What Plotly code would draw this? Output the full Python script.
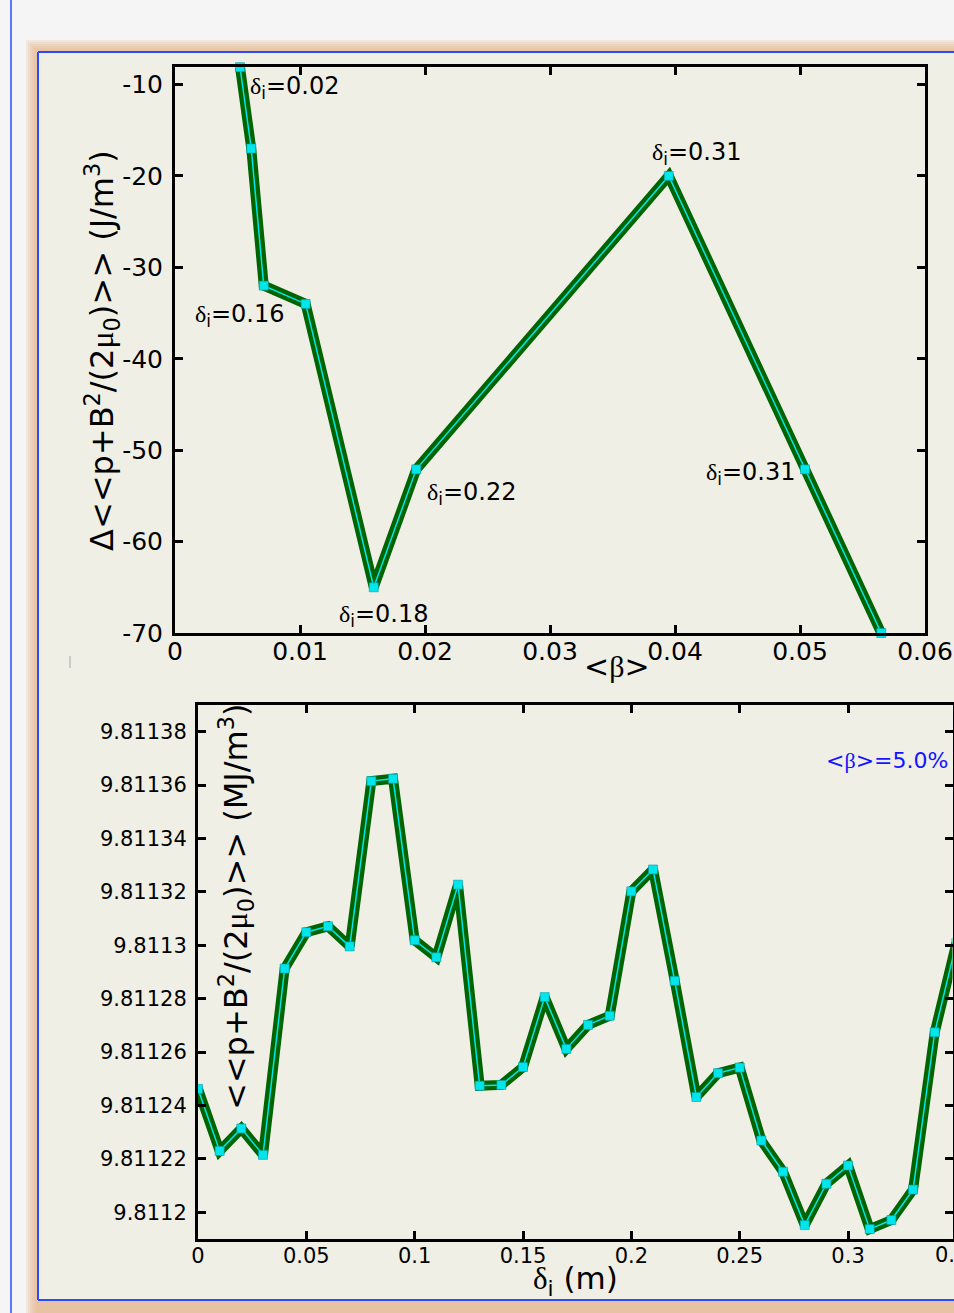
import plotly.graph_objects as go

# ---------------- data ----------------
# top panel: Delta <<p+B^2/(2 mu0)>> vs <beta>
beta_vals = [0.0052, 0.0061, 0.0071, 0.01045, 0.0159, 0.0193, 0.0395, 0.0504, 0.0565]
dp_vals = [-8.1, -17.0, -32.0, -34.0, -65.0, -52.1, -20.0, -52.1, -70.0]

# point labels of the top panel
lab_text = ["0.02", "0.16", "0.18", "0.22", "0.31", "0.31"]
lab_x = [0.00584, 0.00896, 0.01296, 0.0200, 0.0380, 0.04984]
lab_y = [-10.3, -35.3, -68.1, -54.7, -17.5, -52.6]
lab_anchor = ["left", "right", "left", "left", "left", "right"]

# bottom panel: <<p+B^2/(2 mu0)>> vs delta_i
delta_i = [0.00, 0.01, 0.02, 0.03, 0.04, 0.05, 0.06, 0.07, 0.08, 0.09,
           0.10, 0.11, 0.12, 0.13, 0.14, 0.15, 0.16, 0.17, 0.18, 0.19,
           0.20, 0.21, 0.22, 0.23, 0.24, 0.25, 0.26, 0.27, 0.28, 0.29,
           0.30, 0.31, 0.32, 0.33, 0.34, 0.35]
pb_vals = [9.8112462, 9.8112230, 9.8112314, 9.8112215, 9.8112913, 9.8113049,
           9.8113071, 9.8112996, 9.8113615, 9.8113624, 9.8113019, 9.8112955,
           9.8113227, 9.8112474, 9.8112477, 9.8112544, 9.8112806, 9.8112612,
           9.8112702, 9.8112736, 9.8113202, 9.8113284, 9.8112867, 9.8112432,
           9.8112521, 9.8112542, 9.8112269, 9.8112152, 9.8111952, 9.8112107,
           9.8112175, 9.8111937, 9.8111971, 9.8112085, 9.8112674, 9.8113009]

top_y_ticks = [-70, -60, -50, -40, -30, -20, -10]
top_y_text = ["-70", "-60", "-50", "-40", "-30", "-20", "-10"]
bot_y_ticks = [9.8112, 9.81122, 9.81124, 9.81126, 9.81128, 9.8113,
               9.81132, 9.81134, 9.81136, 9.81138]
bot_y_text = ["9.8112", "9.81122", "9.81124", "9.81126", "9.81128", "9.8113",
              "9.81132", "9.81134", "9.81136", "9.81138"]

# ---------------- layout helpers ----------------
W, H = 954, 1313
FONT = "DejaVu Sans"
SERIF = "Liberation Serif"


def px(x, y):
    return min(max(x / W, 0), 1), min(max(1 - y / H, 0), 1)


def greek(ch):
    return f"<span style='font-family:{SERIF}'>{ch}</span>"


GREEN = "#006400"
CYAN = "#00e6ec"

fig = go.Figure()
fig.add_trace(go.Scatter(x=beta_vals, y=dp_vals, mode="lines",
                         line=dict(color=GREEN, width=10),
                         xaxis="x", yaxis="y", cliponaxis=False,
                         hoverinfo="skip", showlegend=False))
fig.add_trace(go.Scatter(x=beta_vals, y=dp_vals, mode="lines+markers",
                         line=dict(color=CYAN, width=1.5),
                         marker=dict(symbol="square", size=9, color=CYAN,
                                     line=dict(color="#00a0a8", width=0.6)),
                         xaxis="x", yaxis="y", cliponaxis=False,
                         showlegend=False))
fig.add_trace(go.Scatter(x=delta_i, y=pb_vals, mode="lines",
                         line=dict(color=GREEN, width=10),
                         xaxis="x2", yaxis="y2", cliponaxis=True,
                         hoverinfo="skip", showlegend=False))
fig.add_trace(go.Scatter(x=delta_i, y=pb_vals, mode="lines+markers",
                         line=dict(color=CYAN, width=1.5),
                         marker=dict(symbol="square", size=9, color=CYAN,
                                     line=dict(color="#00a0a8", width=0.6)),
                         xaxis="x2", yaxis="y2", cliponaxis=True,
                         showlegend=False))

axis_common = dict(showline=True, linewidth=3, linecolor="black", mirror="ticks",
                   ticks="inside", ticklen=8, tickwidth=3, tickcolor="black",
                   showgrid=False, zeroline=False, automargin=False,
                   tickfont=dict(family=FONT, size=25, color="black"))

x1d = [175 / W, 925 / W]
y1d = [1 - 633 / H, 1 - 66.7 / H]
x2d = [198 / W, 952.5 / W]
y2d = [1 - 1239 / H, 1 - 705 / H]

fig.update_layout(
    width=W, height=H, autosize=False,
    margin=dict(l=0, r=0, t=0, b=0, pad=0, autoexpand=False),
    paper_bgcolor="#f5f5f5",
    plot_bgcolor="#f0efe6",
    font=dict(family=FONT, color="black"),
    xaxis=dict(axis_common, domain=x1d, range=[0, 0.06], dtick=0.01, tick0=0,
               anchor="y", ticklabelstandoff=-6),
    yaxis=dict(axis_common, domain=y1d, range=[-70, -8.05],
               tickvals=top_y_ticks, ticktext=top_y_text, anchor="x",
               ticklabelstandoff=4),
    xaxis2=dict(axis_common, domain=x2d, range=[0, 0.3482], dtick=0.05, tick0=0,
                anchor="y2", ticklabelstandoff=-4,
                tickfont=dict(family=FONT, size=21, color="black")),
    yaxis2=dict(axis_common, domain=y2d, range=[9.81119, 9.81139],
                tickvals=bot_y_ticks, ticktext=bot_y_text, anchor="x2",
                ticklabelstandoff=4,
                tickfont=dict(family=FONT, size=21, color="black")),
)

# ---------------- page decorations ----------------
shapes = []
BLUE = "#2a4bff"
shapes.append(dict(type="line", xref="paper", yref="paper",
                   x0=11 / W, x1=11 / W, y0=0, y1=1,
                   line=dict(color=BLUE, width=1.5), layer="below"))
for d in [12, 10, 8, 6, 4, 2]:
    x0, y0 = px(38 - d, 52 - d)
    shapes.append(dict(type="rect", xref="paper", yref="paper",
                       x0=x0, y0=0, x1=1, y1=y0,
                       fillcolor="rgba(228,184,142,0.22)",
                       line=dict(width=0), layer="below"))
x0, y0 = px(38, 52)
_, y1 = px(0, 1300)
shapes.append(dict(type="rect", xref="paper", yref="paper",
                   x0=x0, y0=y1, x1=1, y1=y0,
                   fillcolor="#f0efe6", line=dict(width=0), layer="below"))
shapes.append(dict(type="line", xref="paper", yref="paper",
                   x0=x0, x1=1, y0=y0, y1=y0,
                   line=dict(color=BLUE, width=2), layer="below"))
shapes.append(dict(type="line", xref="paper", yref="paper",
                   x0=x0, x1=x0, y0=y1, y1=y0,
                   line=dict(color=BLUE, width=2), layer="below"))
shapes.append(dict(type="line", xref="paper", yref="paper",
                   x0=x0, x1=1, y0=y1, y1=y1,
                   line=dict(color=BLUE, width=2), layer="below"))
gx, gy0 = px(70, 656)
_, gy1 = px(70, 668)
shapes.append(dict(type="line", xref="paper", yref="paper",
                   x0=gx, x1=gx, y0=gy1, y1=gy0,
                   line=dict(color="#b0b0b0", width=1.2), layer="below"))
fig.update_layout(shapes=shapes)

# ---------------- text ----------------
ann = []
for t, lx, ly, an in zip(lab_text, lab_x, lab_y, lab_anchor):
    ann.append(dict(x=lx, y=ly, xref="x", yref="y", showarrow=False,
                    xanchor=an, yanchor="middle",
                    text=f"{greek('δ')}<sub>i</sub>={t}",
                    font=dict(family=FONT, size=24, color="black")))
ax_, ay_ = px(617, 666)
ann.append(dict(x=ax_, y=ay_, xref="paper", yref="paper", showarrow=False,
                xanchor="center", yanchor="middle",
                text=f"&lt;{greek('β')}&gt;",
                font=dict(family=FONT, size=30, color="black")))
ax_, ay_ = px(102, 351)
ann.append(dict(x=ax_, y=ay_, xref="paper", yref="paper", showarrow=False,
                xanchor="center", yanchor="middle", textangle=-90,
                text=f"Δ&lt;&lt;p+B<sup>2</sup>/(2{greek('μ')}<sub>0</sub>)&gt;&gt; (J/m<sup>3</sup>)",
                font=dict(family=FONT, size=32, color="black")))
ax_, ay_ = px(575, 1280)
ann.append(dict(x=ax_, y=ay_, xref="paper", yref="paper", showarrow=False,
                xanchor="center", yanchor="middle",
                text=f"{greek('δ')}<sub>i</sub> (m)",
                font=dict(family=FONT, size=31, color="black")))
ax_, ay_ = px(236, 907)
ann.append(dict(x=ax_, y=ay_, xref="paper", yref="paper", showarrow=False,
                xanchor="center", yanchor="middle", textangle=-90,
                text=f"&lt;&lt;p+B<sup>2</sup>/(2{greek('μ')}<sub>0</sub>)&gt;&gt; (MJ/m<sup>3</sup>)",
                font=dict(family=FONT, size=32, color="black")))
# visible part of the 0.35 tick label, cut by the page edge
ax_, ay_ = px(933, 1255)
ann.append(dict(x=ax_, y=ay_, xref="paper", yref="paper", showarrow=False,
                xanchor="left", yanchor="middle", text="0.",
                font=dict(family=FONT, size=21, color="black")))
ax_, ay_ = px(950, 760)
ann.append(dict(x=ax_, y=ay_, xref="paper", yref="paper", showarrow=False,
                xanchor="right", yanchor="middle",
                text=f"&lt;{greek('β')}&gt;=5.0%",
                font=dict(family=FONT, size=22, color="#1414ff")))
fig.update_layout(annotations=ann)

post = (
    "document.documentElement.style.margin='0';"
    "document.documentElement.style.overflow='hidden';"
    "document.body.style.margin='0';"
    "document.body.style.overflow='hidden';"
)

fig.write_html("out.html", config={"displayModeBar": False}, post_script=post)
